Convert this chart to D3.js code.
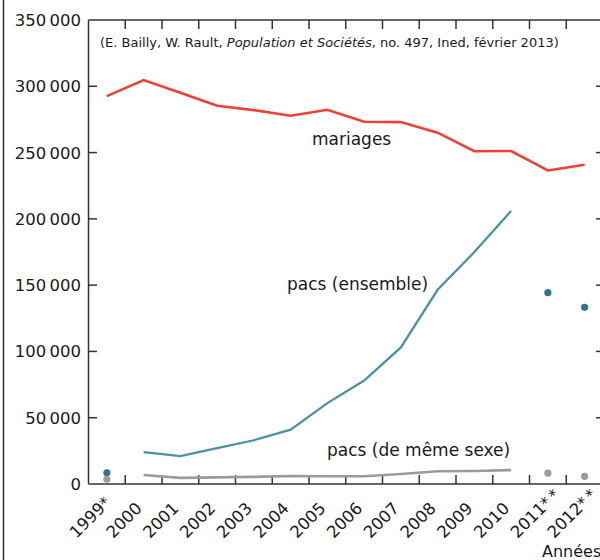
<!DOCTYPE html>
<html>
<head>
<meta charset="utf-8">
<script src="https://cdn.jsdelivr.net/npm/d3@7"></script>
<style>
  body { margin: 0; background: #fff; }
  svg { display: block; font-family: "DejaVu Sans", sans-serif; }
</style>
</head>
<body>
<div id="chart"></div>
<script>
// years on the x axis (labels as printed)
const years = ['1999', '2000', '2001', '2002', '2003', '2004', '2005',
  '2006', '2007', '2008', '2009', '2010', '2011', '2012'];
const yearLabels = ['1999*', '2000', '2001', '2002', '2003', '2004', '2005',
  '2006', '2007', '2008', '2009', '2010', '2011**', '2012**'];

// mariages, 1999-2012
const mariages = [292600, 304700, 295200, 285300, 282000, 277800, 282300,
  273300, 273000, 265000, 251000, 251200, 236500, 240800];

// pacs (ensemble): line 2000-2010, separate dots for 1999, 2011, 2012
const pacsYears = ['2000', '2001', '2002', '2003', '2004', '2005', '2006',
  '2007', '2008', '2009', '2010'];
const pacsTotal = [24000, 21000, 27000, 33000, 41000, 61000, 78000,
  103000, 146500, 175000, 206000];
const pacsTotalDots = [['1999', 8500], ['2011', 144300], ['2012', 133300]];

// pacs (de même sexe)
const pacsSame = [6800, 4600, 5000, 5400, 6000, 5900, 5900, 7600, 9600,
  9800, 10500];
const pacsSameDots = [['1999', 3600], ['2011', 8200], ['2012', 5800]];

const yTicks = [0, 50000, 100000, 150000, 200000, 250000, 300000, 350000];

const W = 600, H = 560;
const svg = d3.select('#chart').append('svg')
  .attr('width', W).attr('height', H);

const x = d3.scaleBand().domain(years).range([88.5, 603]);
const cx = d => x(d) + x.bandwidth() / 2;
const y = d3.scaleLinear().domain([0, 350000]).range([484, 20]);

const fmt = v => d3.format(',')(v).replace(/,/g, '\u2009');

// outer left border
svg.append('line')
  .attr('x1', 3.5).attr('x2', 3.5).attr('y1', 0).attr('y2', H)
  .attr('stroke', '#333').attr('stroke-width', 1.5);

// frame: left axis, top, bottom
const frame = svg.append('g').attr('stroke', '#333').attr('stroke-width', 1.5);
frame.append('line').attr('x1', 88.5).attr('x2', 88.5).attr('y1', 20).attr('y2', 484);
frame.append('line').attr('x1', 88.5).attr('x2', W).attr('y1', 20).attr('y2', 20);
frame.append('line').attr('x1', 88.5).attr('x2', W).attr('y1', 484).attr('y2', 484);

// year boundary ticks, top and bottom (inward)
const bounds = years.slice(1).map(d => x(d));
frame.selectAll('.tb').data(bounds).join('line')
  .attr('x1', d => d).attr('x2', d => d).attr('y1', 484).attr('y2', 475);
frame.selectAll('.tt').data(bounds).join('line')
  .attr('x1', d => d).attr('x2', d => d).attr('y1', 20).attr('y2', 29);

// y ticks, left (inward) and right (inward)
frame.selectAll('.yl').data(yTicks.slice(1, -1)).join('line')
  .attr('x1', 88.5).attr('x2', 97).attr('y1', d => y(d)).attr('y2', d => y(d));
frame.selectAll('.yr').data(yTicks.slice(1, -1)).join('line')
  .attr('x1', 596).attr('x2', W).attr('y1', d => y(d)).attr('y2', d => y(d));

// y tick labels
svg.append('g').selectAll('text').data(yTicks).join('text')
  .attr('x', 81).attr('y', d => y(d)).attr('dy', '0.36em')
  .attr('text-anchor', 'end').attr('font-size', 16.5).attr('fill', '#1a1a1a')
  .text(fmt);

// x labels, rotated; number part placed the same for every year
const xl = svg.append('g').selectAll('text').data(years).join('text')
  .attr('transform', d => `translate(${cx(d) - 30.5},539) rotate(-45)`)
  .attr('text-anchor', 'start').attr('font-size', 16.5).attr('fill', '#1a1a1a');
xl.text((d, i) => yearLabels[i].replace(/\*/g, ''));
xl.filter((d, i) => yearLabels[i].includes('*')).append('tspan')
  .attr('font-size', 16)
  .text(d => yearLabels[years.indexOf(d)].replace(/[0-9]/g, '').split('').join('\u2009'));

// lines
const line = d3.line().x(d => cx(d[0])).y(d => y(d[1]));

svg.append('path')
  .datum(years.map((d, i) => [d, mariages[i]]))
  .attr('d', line).attr('fill', 'none')
  .attr('stroke', '#ee4035').attr('stroke-width', 2.6);

svg.append('path')
  .datum(pacsYears.map((d, i) => [d, pacsTotal[i]]))
  .attr('d', line).attr('fill', 'none')
  .attr('stroke', '#4e8ea8').attr('stroke-width', 2.3);

svg.append('path')
  .datum(pacsYears.map((d, i) => [d, pacsSame[i]]))
  .attr('d', line).attr('fill', 'none')
  .attr('stroke', '#9b9b9b').attr('stroke-width', 2.6);

// isolated dots
svg.append('g').selectAll('circle').data(pacsTotalDots).join('circle')
  .attr('cx', d => cx(d[0])).attr('cy', d => y(d[1])).attr('r', 3.6)
  .attr('fill', '#2e7593');
svg.append('g').selectAll('circle').data(pacsSameDots).join('circle')
  .attr('cx', d => cx(d[0])).attr('cy', d => y(d[1])).attr('r', 3.6)
  .attr('fill', '#9b9b9b');

// series labels
const lab = svg.append('g').attr('font-size', 17).attr('fill', '#1a1a1a');
lab.append('text').attr('x', 312).attr('y', 145).text('mariages');
lab.append('text').attr('x', 287).attr('y', 290).text('pacs (ensemble)');
lab.append('text').attr('x', 327).attr('y', 456).text('pacs (de même sexe)');

// source note
const src = svg.append('text').attr('x', 100).attr('y', 47)
  .attr('font-size', 13).attr('fill', '#1a1a1a');
src.append('tspan').text('(E. Bailly, W. Rault, ');
src.append('tspan').attr('font-style', 'italic').text('Population et Sociétés');
src.append('tspan').text(', no. 497, Ined, février 2013)');

svg.append('text').attr('x', 542).attr('y', 557)
  .attr('font-size', 16).attr('fill', '#1a1a1a').text('Années');
</script>
</body>
</html>
